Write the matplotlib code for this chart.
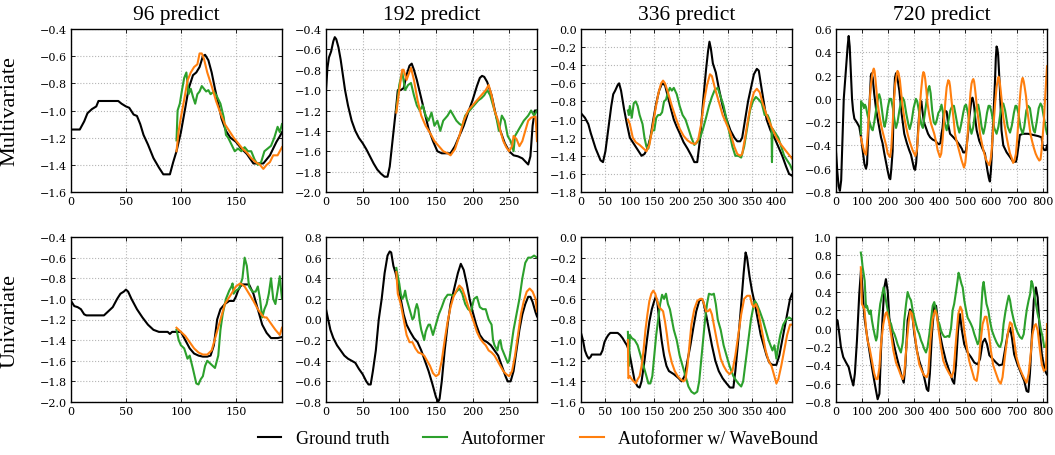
import matplotlib
matplotlib.use('Agg')
import matplotlib.pyplot as plt
from matplotlib.ticker import FuncFormatter

# ---------------- data ----------------
# multivariate, 96 predict
gt_m96_x = [0, 8, 12, 15, 19, 23, 25, 43, 46, 50, 53, 57, 60, 63, 66, 70, 75, 80, 84, 90, 93, 96, 100, 104, 107, 111, 114, 117, 120, 122, 125, 128, 131, 134, 137, 141, 145, 150, 155, 160, 166, 170, 175, 178, 181, 184, 187, 190, 192]
gt_m96_y = [-1.14, -1.14, -1.08, -1.02, -0.99, -0.97, -0.93, -0.93, -0.95, -0.97, -0.98, -1.03, -1.04, -1.1, -1.18, -1.25, -1.35, -1.42, -1.47, -1.47, -1.38, -1.3, -1.16, -0.98, -0.84, -0.74, -0.72, -0.68, -0.6, -0.59, -0.63, -0.72, -0.84, -0.95, -1.06, -1.15, -1.2, -1.23, -1.28, -1.32, -1.39, -1.39, -1.39, -1.36, -1.33, -1.28, -1.23, -1.19, -1.16]
af_m96_x = [96, 97, 99, 101, 103, 105, 107, 109, 111, 113, 115, 117, 119, 121, 123, 125, 127, 130, 133, 136, 139, 141, 143, 146, 149, 152, 155, 158, 161, 164, 167, 170, 173, 176, 179, 182, 185, 188, 190, 192]
af_m96_y = [-1.22, -1.0, -0.95, -0.85, -0.76, -0.72, -0.88, -0.84, -0.9, -0.95, -0.88, -0.86, -0.82, -0.84, -0.86, -0.85, -0.88, -0.86, -0.9, -0.95, -1.05, -1.18, -1.2, -1.25, -1.3, -1.28, -1.3, -1.27, -1.3, -1.3, -1.36, -1.4, -1.38, -1.3, -1.28, -1.26, -1.2, -1.12, -1.16, -1.1]
wb_m96_x = [96, 98, 100, 103, 106, 109, 112, 115, 117, 119, 121, 124, 128, 132, 136, 140, 144, 148, 152, 156, 160, 164, 168, 172, 175, 178, 181, 184, 188, 192]
wb_m96_y = [-1.3, -1.15, -1.05, -0.92, -0.78, -0.72, -0.68, -0.66, -0.58, -0.58, -0.62, -0.72, -0.82, -0.93, -1.02, -1.1, -1.15, -1.2, -1.24, -1.28, -1.31, -1.35, -1.38, -1.4, -1.43, -1.4, -1.38, -1.33, -1.33, -1.27]

# multivariate, 192 predict
gt_m192_x = [0, 2, 4, 7, 10, 12, 14, 17, 20, 23, 26, 30, 35, 40, 45, 50, 55, 60, 65, 70, 75, 80, 84, 87, 90, 93, 96, 98, 102, 106, 110, 114, 117, 120, 124, 128, 134, 140, 146, 152, 158, 164, 170, 176, 182, 188, 194, 200, 206, 210, 213, 216, 220, 226, 232, 238, 244, 250, 256, 262, 268, 272, 276, 279, 282, 285, 288]
gt_m192_y = [-1.0, -0.78, -0.68, -0.62, -0.52, -0.48, -0.5, -0.58, -0.7, -0.85, -1.0, -1.15, -1.3, -1.4, -1.47, -1.52, -1.58, -1.65, -1.72, -1.78, -1.82, -1.85, -1.85, -1.75, -1.55, -1.35, -1.15, -1.0, -1.0, -0.98, -0.85, -0.76, -0.74, -0.8, -0.9, -1.02, -1.2, -1.38, -1.5, -1.6, -1.62, -1.62, -1.62, -1.55, -1.45, -1.35, -1.22, -1.1, -0.96, -0.88, -0.86, -0.87, -0.92, -1.05, -1.25, -1.4, -1.52, -1.6, -1.64, -1.65, -1.67, -1.7, -1.73, -1.65, -1.35, -1.2, -1.2]
af_m192_x = [96, 100, 104, 108, 112, 116, 120, 124, 128, 132, 136, 140, 144, 148, 152, 156, 160, 166, 170, 174, 178, 182, 186, 190, 196, 202, 208, 212, 216, 220, 224, 228, 232, 236, 240, 244, 248, 252, 256, 258, 262, 266, 270, 276, 280, 284, 288]
af_m192_y = [-1.2, -0.95, -0.82, -1.0, -0.95, -0.93, -1.05, -1.15, -1.2, -1.15, -1.25, -1.3, -1.22, -1.35, -1.3, -1.4, -1.3, -1.25, -1.2, -1.25, -1.3, -1.33, -1.35, -1.25, -1.2, -1.15, -1.1, -1.08, -1.05, -1.0, -1.05, -1.15, -1.25, -1.4, -1.25, -1.3, -1.45, -1.5, -1.6, -1.45, -1.4, -1.35, -1.3, -1.25, -1.2, -1.25, -1.2]
wb_m192_x = [96, 100, 104, 106, 110, 114, 116, 120, 125, 130, 136, 142, 148, 154, 160, 166, 170, 176, 182, 188, 194, 200, 206, 212, 218, 222, 226, 230, 234, 238, 242, 246, 250, 254, 256, 260, 264, 268, 272, 276, 280, 286, 288]
wb_m192_y = [-1.22, -1.0, -0.8, -0.8, -0.9, -0.82, -0.78, -0.9, -1.1, -1.25, -1.35, -1.42, -1.5, -1.55, -1.6, -1.62, -1.64, -1.58, -1.45, -1.3, -1.2, -1.15, -1.1, -1.05, -1.0, -0.95, -1.05, -1.2, -1.28, -1.4, -1.5, -1.56, -1.6, -1.55, -1.45, -1.48, -1.55, -1.5, -1.4, -1.3, -1.27, -1.26, -1.5]

# multivariate, 336 predict
gt_m336_x = [0, 8, 15, 20, 30, 40, 45, 50, 56, 62, 66, 70, 75, 78, 82, 88, 94, 100, 106, 112, 118, 124, 130, 136, 142, 148, 154, 160, 166, 172, 178, 184, 190, 196, 202, 210, 218, 226, 232, 238, 244, 250, 256, 260, 263, 266, 270, 276, 282, 290, 298, 306, 314, 320, 326, 330, 336, 342, 348, 354, 360, 364, 368, 374, 380, 388, 396, 404, 412, 420, 426, 432]
gt_m336_y = [-0.93, -0.98, -1.05, -1.15, -1.32, -1.45, -1.47, -1.35, -1.1, -0.85, -0.72, -0.68, -0.62, -0.6, -0.68, -0.88, -1.05, -1.2, -1.25, -1.3, -1.35, -1.4, -1.38, -1.32, -1.2, -1.0, -0.82, -0.68, -0.6, -0.62, -0.75, -0.88, -1.0, -1.08, -1.15, -1.25, -1.32, -1.4, -1.47, -1.47, -1.2, -0.8, -0.45, -0.25, -0.14, -0.22, -0.38, -0.48, -0.65, -0.85, -1.0, -1.12, -1.2, -1.24, -1.24, -1.2, -1.0, -0.8, -0.65, -0.5, -0.44, -0.46, -0.6, -0.8, -1.0, -1.12, -1.2, -1.3, -1.4, -1.52, -1.6, -1.62]
af_m336_x = [96, 98, 100, 104, 108, 112, 116, 120, 126, 130, 134, 138, 142, 146, 150, 154, 158, 162, 166, 170, 174, 178, 182, 186, 190, 196, 202, 208, 214, 220, 226, 232, 238, 244, 250, 256, 262, 268, 274, 280, 286, 292, 298, 304, 310, 316, 322, 328, 334, 340, 346, 352, 358, 364, 370, 376, 382, 386, 390, 391, 392, 398, 404, 410, 416, 422, 428, 432]
af_m336_y = [-0.9, -0.95, -0.85, -0.98, -0.82, -0.8, -0.85, -0.95, -1.05, -1.2, -1.3, -1.32, -1.2, -1.12, -1.12, -0.98, -0.95, -0.95, -0.92, -0.8, -0.78, -0.7, -0.65, -0.68, -0.65, -0.72, -0.85, -0.95, -1.0, -1.1, -1.2, -1.28, -1.25, -1.2, -1.1, -0.98, -0.85, -0.75, -0.67, -0.65, -0.75, -0.85, -1.0, -1.15, -1.3, -1.4, -1.4, -1.42, -1.3, -1.1, -0.9, -0.8, -0.75, -0.78, -0.82, -0.95, -0.95, -1.0, -1.1, -1.47, -1.1, -1.15, -1.2, -1.3, -1.4, -1.45, -1.5, -1.55]
wb_m336_x = [96, 100, 106, 112, 120, 128, 134, 140, 146, 152, 158, 164, 168, 172, 178, 186, 194, 202, 210, 218, 226, 234, 240, 246, 252, 258, 264, 268, 274, 282, 290, 298, 306, 314, 320, 326, 330, 336, 342, 348, 354, 360, 366, 372, 380, 390, 400, 410, 420, 432]
wb_m336_y = [-1.0, -1.05, -1.2, -1.25, -1.28, -1.32, -1.35, -1.28, -1.1, -0.9, -0.72, -0.6, -0.57, -0.6, -0.7, -0.85, -0.98, -1.1, -1.18, -1.23, -1.26, -1.27, -1.22, -1.05, -0.8, -0.62, -0.5, -0.52, -0.65, -0.8, -0.95, -1.05, -1.15, -1.3, -1.38, -1.4, -1.38, -1.2, -1.0, -0.82, -0.7, -0.66, -0.7, -0.82, -0.95, -1.08, -1.2, -1.28, -1.35, -1.43]

# multivariate, 720 predict
gt_m720_x = [0, 5, 10, 15, 20, 25, 30, 35, 40, 45, 49, 53, 58, 62, 66, 71, 80, 90, 97, 103, 110, 116, 120, 124, 129, 135, 138, 142, 148, 155, 165, 174, 180, 187, 194, 200, 206, 210, 214, 219, 224, 228, 232, 236, 245, 254, 264, 274, 283, 290, 296, 302, 306, 310, 313, 318, 322, 326, 330, 334, 340, 348, 356, 364, 374, 384, 392, 398, 404, 408, 412, 416, 421, 428, 434, 441, 454, 466, 479, 487, 492, 498, 503, 508, 512, 516, 520, 524, 528, 532, 535, 540, 544, 554, 567, 576, 581, 586, 591, 595, 599, 602, 605, 608, 612, 615, 618, 621, 624, 627, 630, 634, 637, 640, 647, 660, 673, 685, 696, 700, 705, 709, 711, 724, 743, 763, 782, 795, 800, 806, 812, 816]
gt_m720_y = [-0.45, -0.62, -0.75, -0.79, -0.7, -0.35, 0.0, 0.15, 0.3, 0.45, 0.54, 0.45, 0.2, 0.0, -0.1, -0.17, -0.2, -0.24, -0.33, -0.44, -0.56, -0.6, -0.56, -0.35, -0.07, 0.2, 0.22, 0.18, 0.04, -0.09, -0.22, -0.33, -0.38, -0.47, -0.55, -0.62, -0.68, -0.69, -0.6, -0.45, 0.0, 0.18, 0.22, 0.2, 0.07, -0.13, -0.3, -0.38, -0.44, -0.48, -0.54, -0.6, -0.61, -0.55, -0.45, -0.25, -0.12, -0.05, -0.02, -0.1, -0.2, -0.25, -0.3, -0.33, -0.35, -0.36, -0.38, -0.39, -0.38, -0.3, -0.25, -0.14, -0.1, -0.11, -0.22, -0.3, -0.33, -0.36, -0.4, -0.43, -0.46, -0.46, -0.44, -0.35, -0.27, -0.15, -0.08, 0.0, 0.01, -0.03, -0.08, -0.2, -0.27, -0.36, -0.43, -0.47, -0.55, -0.62, -0.68, -0.71, -0.62, -0.5, -0.35, -0.2, 0.0, 0.16, 0.35, 0.45, 0.43, 0.38, 0.25, 0.08, -0.1, -0.27, -0.4, -0.46, -0.5, -0.54, -0.54, -0.5, -0.42, -0.35, -0.31, -0.3, -0.3, -0.31, -0.32, -0.33, -0.42, -0.44, -0.44, -0.4]
af_m720_x = [96, 97, 100, 104, 108, 112, 116, 122, 130, 138, 142, 148, 156, 162, 167, 172, 178, 184, 188, 194, 200, 207, 213, 220, 226, 232, 238, 245, 252, 258, 264, 272, 280, 285, 292, 300, 309, 314, 322, 330, 336, 342, 350, 356, 361, 366, 372, 378, 384, 390, 396, 402, 408, 414, 420, 428, 434, 442, 450, 456, 462, 470, 477, 484, 492, 498, 503, 510, 518, 524, 530, 538, 545, 550, 556, 563, 570, 576, 584, 590, 595, 602, 612, 621, 628, 636, 642, 647, 654, 664, 673, 680, 688, 694, 698, 705, 714, 722, 728, 736, 743, 750, 758, 764, 769, 776, 784, 791, 796, 804, 812, 816]
af_m720_y = [-0.3, -0.02, -0.05, -0.04, -0.08, -0.05, -0.07, -0.14, -0.2, -0.26, -0.27, -0.2, -0.08, 0.0, 0.04, 0.0, -0.1, -0.2, -0.24, -0.18, -0.08, 0.0, 0.0, -0.08, -0.18, -0.25, -0.2, -0.1, -0.02, 0.01, -0.02, -0.13, -0.22, -0.26, -0.2, -0.08, 0.0, -0.02, -0.12, -0.22, -0.25, -0.15, -0.02, 0.08, 0.11, 0.05, -0.1, -0.2, -0.22, -0.18, -0.12, -0.1, -0.05, -0.12, -0.2, -0.27, -0.2, -0.1, -0.06, -0.06, -0.13, -0.23, -0.29, -0.22, -0.12, -0.06, -0.05, -0.12, -0.24, -0.3, -0.25, -0.12, -0.06, -0.05, -0.12, -0.24, -0.3, -0.24, -0.12, -0.06, -0.06, -0.12, -0.25, -0.3, -0.24, -0.12, -0.05, -0.04, -0.1, -0.24, -0.29, -0.23, -0.12, -0.06, -0.06, -0.12, -0.25, -0.3, -0.24, -0.1, -0.06, -0.08, -0.2, -0.27, -0.29, -0.2, -0.08, -0.04, -0.06, -0.16, -0.26, -0.3]
wb_m720_x = [96, 103, 110, 116, 122, 129, 134, 139, 143, 146, 149, 152, 156, 161, 167, 174, 180, 187, 194, 200, 209, 214, 219, 224, 229, 235, 238, 242, 247, 252, 258, 264, 271, 278, 284, 290, 296, 307, 312, 316, 322, 329, 335, 338, 341, 345, 350, 354, 360, 367, 374, 380, 387, 393, 402, 407, 412, 418, 423, 428, 434, 438, 441, 446, 451, 456, 460, 466, 473, 480, 486, 495, 500, 505, 510, 515, 520, 524, 528, 531, 534, 537, 541, 546, 552, 557, 564, 570, 576, 582, 593, 598, 602, 606, 611, 616, 621, 626, 629, 633, 637, 642, 647, 654, 660, 667, 673, 680, 685, 690, 696, 701, 706, 711, 715, 719, 722, 726, 729, 735, 740, 746, 752, 758, 765, 772, 778, 786, 791, 795, 800, 804, 808, 812, 816]
wb_m720_y = [-0.33, -0.4, -0.46, -0.48, -0.32, -0.07, 0.1, 0.19, 0.24, 0.26, 0.24, 0.18, 0.08, -0.04, -0.13, -0.22, -0.28, -0.34, -0.4, -0.47, -0.5, -0.42, -0.22, -0.02, 0.13, 0.21, 0.24, 0.22, 0.16, 0.05, -0.07, -0.16, -0.24, -0.31, -0.36, -0.4, -0.44, -0.49, -0.45, -0.36, -0.14, 0.07, 0.2, 0.23, 0.22, 0.17, 0.06, -0.04, -0.13, -0.21, -0.26, -0.3, -0.37, -0.44, -0.5, -0.47, -0.36, -0.18, -0.02, 0.1, 0.16, 0.15, 0.11, 0.0, -0.1, -0.2, -0.3, -0.36, -0.42, -0.48, -0.53, -0.59, -0.55, -0.44, -0.28, -0.1, 0.05, 0.13, 0.16, 0.17, 0.15, 0.1, 0.02, -0.1, -0.2, -0.3, -0.38, -0.44, -0.49, -0.53, -0.57, -0.52, -0.44, -0.32, -0.16, -0.02, 0.1, 0.17, 0.19, 0.15, 0.07, -0.04, -0.16, -0.25, -0.33, -0.41, -0.47, -0.51, -0.55, -0.53, -0.47, -0.34, -0.16, 0.0, 0.1, 0.16, 0.18, 0.15, 0.11, 0.02, -0.1, -0.2, -0.3, -0.36, -0.42, -0.47, -0.5, -0.53, -0.52, -0.44, -0.3, -0.19, -0.02, 0.13, 0.28]

# univariate, 96 predict
gt_u96_x = [0, 3, 6, 9, 12, 14, 30, 34, 38, 42, 45, 48, 50, 52, 55, 60, 65, 70, 75, 80, 88, 90, 92, 96, 100, 104, 108, 112, 116, 120, 124, 127, 130, 133, 136, 140, 144, 148, 150, 152, 154, 156, 162, 166, 170, 174, 178, 182, 188, 192]
gt_u96_y = [-1.02, -1.07, -1.08, -1.1, -1.15, -1.16, -1.16, -1.12, -1.08, -1.0, -0.95, -0.93, -0.91, -0.93, -1.0, -1.1, -1.18, -1.25, -1.3, -1.32, -1.32, -1.34, -1.32, -1.32, -1.32, -1.4, -1.48, -1.53, -1.55, -1.56, -1.56, -1.55, -1.45, -1.2, -1.1, -1.05, -1.02, -1.02, -0.98, -0.92, -0.88, -0.86, -0.86, -0.95, -1.1, -1.25, -1.33, -1.38, -1.38, -1.37]
af_u96_x = [96, 98, 100, 103, 106, 108, 111, 114, 116, 118, 120, 122, 124, 126, 129, 131, 134, 136, 138, 141, 144, 146, 147, 148, 150, 153, 156, 158, 160, 162, 165, 168, 170, 172, 174, 176, 178, 180, 182, 184, 186, 188, 190, 191, 192]
af_u96_y = [-1.3, -1.4, -1.45, -1.48, -1.58, -1.55, -1.68, -1.82, -1.83, -1.78, -1.75, -1.65, -1.6, -1.62, -1.65, -1.67, -1.55, -1.3, -1.15, -1.0, -0.92, -0.88, -0.85, -0.95, -0.92, -0.9, -0.8, -0.6, -0.68, -0.88, -0.93, -0.93, -0.88, -1.0, -1.18, -1.1, -1.05, -0.95, -0.8, -1.0, -1.05, -0.92, -0.78, -0.9, -1.0]
wb_u96_x = [96, 100, 104, 108, 112, 116, 120, 124, 128, 132, 136, 140, 146, 150, 154, 158, 162, 166, 170, 174, 176, 178, 182, 186, 190, 192]
wb_u96_y = [-1.28, -1.32, -1.36, -1.42, -1.48, -1.52, -1.54, -1.54, -1.5, -1.35, -1.2, -1.05, -0.95, -0.88, -0.85, -0.88, -0.95, -1.02, -1.1, -1.16, -1.18, -1.18, -1.24, -1.3, -1.35, -1.28]

# univariate, 192 predict
gt_u192_x = [0, 3, 6, 10, 15, 20, 25, 30, 35, 40, 45, 50, 55, 58, 61, 64, 68, 72, 76, 80, 84, 87, 89, 92, 95, 98, 102, 106, 110, 115, 120, 125, 130, 135, 140, 145, 150, 153, 155, 158, 162, 166, 170, 175, 180, 184, 188, 192, 196, 200, 205, 210, 215, 220, 225, 230, 235, 240, 245, 248, 252, 256, 260, 264, 268, 272, 276, 279, 282, 286, 288]
gt_u192_y = [0.1, 0.0, -0.1, -0.18, -0.25, -0.3, -0.35, -0.38, -0.4, -0.42, -0.48, -0.53, -0.6, -0.63, -0.63, -0.5, -0.3, 0.0, 0.2, 0.45, 0.62, 0.66, 0.65, 0.52, 0.45, 0.35, 0.2, 0.05, -0.05, -0.12, -0.18, -0.22, -0.3, -0.4, -0.5, -0.62, -0.75, -0.8, -0.77, -0.6, -0.3, -0.05, 0.15, 0.3, 0.45, 0.54, 0.48, 0.35, 0.2, 0.08, -0.05, -0.15, -0.2, -0.22, -0.25, -0.3, -0.35, -0.45, -0.55, -0.6, -0.6, -0.5, -0.3, -0.1, 0.05, 0.15, 0.22, 0.22, 0.17, 0.07, 0.03]
af_u192_x = [96, 98, 100, 102, 104, 106, 108, 110, 112, 114, 116, 118, 120, 122, 124, 126, 128, 130, 132, 134, 136, 138, 140, 142, 144, 146, 148, 150, 154, 158, 162, 166, 170, 174, 178, 182, 186, 190, 194, 198, 202, 206, 210, 214, 218, 222, 226, 228, 230, 234, 236, 238, 240, 244, 248, 250, 252, 256, 260, 264, 268, 272, 276, 280, 284, 288]
af_u192_y = [0.5, 0.42, 0.35, 0.25, 0.2, 0.22, 0.28, 0.2, 0.15, 0.1, 0.05, 0.0, 0.02, 0.1, 0.15, 0.1, -0.02, -0.1, -0.15, -0.2, -0.12, -0.08, -0.05, -0.05, -0.1, -0.15, -0.1, -0.05, 0.05, 0.12, 0.2, 0.24, 0.24, 0.23, 0.27, 0.3, 0.25, 0.15, 0.1, 0.08, 0.2, 0.22, 0.12, 0.1, 0.1, 0.0, -0.05, -0.2, -0.25, -0.3, -0.22, -0.2, -0.28, -0.35, -0.42, -0.4, -0.3, -0.1, 0.05, 0.2, 0.4, 0.55, 0.6, 0.6, 0.62, 0.6]
wb_u192_x = [96, 98, 102, 106, 110, 114, 118, 122, 126, 130, 134, 138, 142, 146, 150, 154, 158, 162, 166, 170, 174, 178, 182, 186, 190, 194, 198, 202, 206, 210, 214, 218, 222, 226, 230, 234, 238, 242, 246, 250, 254, 258, 262, 266, 270, 274, 278, 282, 286, 288]
wb_u192_y = [0.46, 0.25, 0.15, 0.0, -0.15, -0.22, -0.22, -0.28, -0.32, -0.33, -0.35, -0.4, -0.45, -0.52, -0.55, -0.53, -0.4, -0.2, -0.02, 0.12, 0.22, 0.28, 0.33, 0.3, 0.22, 0.13, 0.05, -0.03, -0.12, -0.18, -0.22, -0.25, -0.3, -0.32, -0.35, -0.4, -0.45, -0.5, -0.53, -0.55, -0.5, -0.35, -0.15, 0.05, 0.18, 0.27, 0.3, 0.27, 0.2, 0.08]

# univariate, 336 predict
gt_u336_x = [0, 4, 8, 12, 16, 20, 22, 40, 44, 48, 52, 56, 60, 75, 80, 85, 90, 94, 98, 102, 106, 110, 116, 120, 124, 130, 135, 140, 145, 150, 153, 156, 160, 165, 170, 175, 180, 190, 200, 206, 212, 218, 224, 230, 236, 242, 246, 250, 256, 262, 268, 275, 282, 290, 298, 305, 312, 316, 322, 328, 333, 337, 340, 345, 350, 356, 362, 368, 374, 380, 386, 392, 400, 406, 412, 418, 424, 428, 432]
gt_u336_y = [-0.93, -1.0, -1.1, -1.15, -1.18, -1.16, -1.14, -1.14, -1.1, -1.02, -0.98, -0.95, -0.93, -0.93, -0.95, -0.98, -1.02, -1.05, -1.1, -1.2, -1.3, -1.4, -1.45, -1.46, -1.4, -1.2, -1.0, -0.82, -0.7, -0.62, -0.58, -0.62, -0.8, -1.0, -1.15, -1.25, -1.3, -1.33, -1.37, -1.4, -1.35, -1.2, -1.05, -0.88, -0.72, -0.62, -0.6, -0.62, -0.75, -0.9, -1.05, -1.2, -1.3, -1.37, -1.42, -1.46, -1.46, -1.3, -1.0, -0.65, -0.35, -0.15, -0.2, -0.38, -0.52, -0.65, -0.8, -0.95, -1.05, -1.15, -1.22, -1.24, -1.24, -1.15, -1.0, -0.85, -0.7, -0.6, -0.55]
af_u336_x = [96, 98, 100, 104, 110, 116, 122, 128, 134, 138, 142, 146, 150, 154, 158, 162, 166, 170, 174, 178, 182, 186, 190, 196, 202, 208, 214, 220, 226, 232, 238, 242, 246, 250, 254, 258, 262, 268, 272, 276, 280, 286, 292, 298, 304, 308, 312, 316, 322, 328, 332, 336, 340, 344, 348, 352, 356, 360, 366, 372, 378, 384, 388, 392, 396, 400, 404, 408, 414, 420, 426, 432]
af_u336_y = [-0.92, -1.25, -0.95, -0.98, -1.0, -1.05, -1.15, -1.25, -1.35, -1.42, -1.42, -1.35, -1.15, -0.95, -0.8, -0.65, -0.56, -0.6, -0.55, -0.65, -0.7, -0.8, -0.9, -1.0, -1.15, -1.25, -1.35, -1.45, -1.5, -1.52, -1.5, -1.4, -1.2, -1.0, -0.8, -0.65, -0.55, -0.56, -0.55, -0.65, -0.8, -0.9, -1.05, -1.15, -1.25, -1.3, -1.35, -1.38, -1.42, -1.45, -1.4, -1.25, -1.1, -0.95, -0.8, -0.7, -0.62, -0.65, -0.72, -0.8, -0.9, -1.0, -1.05, -1.1, -1.05, -1.18, -1.05, -0.95, -0.85, -0.8, -0.78, -0.8]
wb_u336_x = [96, 97, 100, 104, 108, 112, 116, 120, 124, 128, 132, 136, 140, 144, 148, 152, 156, 160, 164, 168, 172, 176, 180, 186, 192, 198, 204, 210, 214, 218, 222, 226, 232, 238, 244, 248, 252, 256, 260, 264, 268, 274, 280, 286, 292, 298, 304, 310, 316, 322, 328, 334, 340, 346, 350, 354, 358, 362, 366, 372, 378, 384, 390, 396, 400, 404, 410, 416, 422, 428, 432]
wb_u336_y = [-1.0, -1.37, -1.35, -1.38, -1.4, -1.42, -1.38, -1.35, -1.25, -1.1, -0.9, -0.75, -0.62, -0.55, -0.52, -0.55, -0.62, -0.68, -0.7, -0.72, -0.82, -0.95, -1.1, -1.22, -1.3, -1.35, -1.38, -1.4, -1.38, -1.25, -1.05, -0.85, -0.7, -0.62, -0.6, -0.6, -0.65, -0.72, -0.72, -0.7, -0.75, -0.9, -1.05, -1.18, -1.25, -1.3, -1.33, -1.3, -1.15, -0.95, -0.75, -0.6, -0.57, -0.57, -0.65, -0.68, -0.65, -0.7, -0.8, -0.95, -1.1, -1.2, -1.25, -1.35, -1.42, -1.38, -1.25, -1.1, -0.95, -0.85, -0.85]

# univariate, 720 predict
gt_u720_x = [0, 6, 13, 19, 28, 39, 49, 58, 67, 73, 81, 90, 97, 103, 110, 119, 129, 139, 148, 155, 161, 168, 174, 180, 187, 193, 200, 206, 216, 226, 235, 245, 255, 262, 268, 277, 286, 294, 303, 313, 322, 332, 341, 351, 357, 363, 371, 380, 387, 393, 402, 412, 425, 438, 451, 457, 464, 472, 479, 487, 496, 509, 522, 535, 548, 557, 567, 576, 584, 593, 606, 619, 631, 644, 653, 664, 673, 680, 689, 702, 715, 728, 737, 744, 750, 758, 765, 773, 780, 789, 796, 804, 812, 816]
gt_u720_y = [0.1, 0.09, -0.06, -0.2, -0.31, -0.37, -0.42, -0.53, -0.62, -0.49, -0.13, 0.38, 0.65, 0.4, 0.12, -0.06, -0.24, -0.42, -0.57, -0.68, -0.77, -0.71, -0.24, 0.12, 0.45, 0.54, 0.41, 0.12, -0.06, -0.2, -0.31, -0.42, -0.53, -0.59, -0.42, 0.09, 0.21, 0.18, -0.06, -0.24, -0.35, -0.44, -0.53, -0.66, -0.68, -0.49, -0.06, 0.25, 0.25, 0.11, -0.06, -0.2, -0.35, -0.46, -0.57, -0.6, -0.39, -0.02, 0.16, -0.02, -0.17, -0.26, -0.31, -0.37, -0.39, -0.33, -0.15, -0.11, -0.17, -0.29, -0.33, -0.37, -0.4, -0.39, -0.24, -0.06, 0.01, -0.09, -0.28, -0.39, -0.48, -0.57, -0.68, -0.69, -0.49, -0.06, 0.31, 0.45, 0.34, -0.06, -0.28, -0.4, -0.48, -0.5]
af_u720_x = [96, 99, 103, 107, 111, 113, 116, 120, 124, 129, 134, 139, 144, 149, 155, 159, 165, 171, 178, 184, 189, 193, 200, 206, 213, 219, 226, 232, 238, 245, 251, 258, 264, 271, 277, 284, 290, 296, 303, 309, 316, 322, 329, 335, 341, 348, 354, 361, 367, 374, 380, 387, 393, 400, 406, 412, 419, 425, 432, 438, 445, 451, 457, 464, 470, 474, 479, 485, 490, 496, 503, 509, 515, 522, 528, 535, 541, 548, 554, 561, 567, 571, 576, 582, 589, 595, 603, 612, 621, 629, 635, 642, 648, 655, 661, 668, 673, 679, 686, 693, 702, 711, 719, 726, 732, 738, 745, 751, 756, 760, 767, 773, 780, 786, 793, 799, 805, 812, 816]
af_u720_y = [0.83, 0.78, 0.67, 0.6, 0.52, 0.4, 0.23, 0.25, 0.2, 0.16, 0.2, 0.09, 0.01, -0.06, -0.13, -0.09, 0.12, 0.27, 0.36, 0.45, 0.38, 0.31, 0.2, 0.09, 0.05, -0.02, -0.06, -0.11, -0.17, -0.22, -0.26, -0.15, 0.09, 0.27, 0.4, 0.34, 0.31, 0.21, 0.12, 0.05, -0.02, -0.06, -0.13, -0.17, -0.22, -0.26, -0.2, -0.06, 0.09, 0.25, 0.29, 0.2, 0.09, 0.05, -0.02, -0.06, -0.09, -0.09, -0.08, -0.09, 0.01, 0.2, 0.27, 0.4, 0.52, 0.61, 0.56, 0.49, 0.45, 0.31, 0.2, 0.12, 0.09, 0.05, 0.01, -0.06, -0.11, -0.17, -0.13, 0.18, 0.45, 0.51, 0.4, 0.27, 0.2, 0.09, -0.02, -0.09, -0.15, -0.19, -0.2, -0.13, 0.05, 0.18, 0.27, 0.36, 0.31, 0.2, 0.11, 0.03, -0.04, -0.09, -0.11, -0.06, 0.09, 0.21, 0.31, 0.38, 0.52, 0.49, 0.38, 0.27, 0.16, 0.09, -0.02, -0.09, -0.2, -0.19, -0.13]
wb_u720_x = [96, 100, 110, 116, 122, 129, 139, 148, 155, 161, 168, 174, 183, 191, 196, 204, 213, 222, 232, 242, 251, 258, 264, 273, 281, 287, 294, 303, 312, 322, 332, 341, 351, 357, 365, 374, 383, 389, 397, 406, 415, 425, 438, 447, 455, 464, 473, 481, 487, 496, 506, 515, 526, 535, 544, 550, 558, 567, 576, 582, 590, 599, 608, 619, 629, 637, 644, 653, 664, 673, 680, 689, 698, 709, 719, 729, 737, 745, 753, 760, 767, 773, 780, 789, 796, 804, 812, 814, 816]
wb_u720_y = [0.67, 0.27, 0.21, 0.01, -0.13, -0.2, -0.35, -0.49, -0.55, -0.55, -0.42, -0.17, 0.05, 0.16, 0.18, 0.09, -0.06, -0.24, -0.37, -0.44, -0.51, -0.55, -0.49, -0.17, 0.07, 0.19, 0.16, -0.02, -0.22, -0.39, -0.46, -0.51, -0.53, -0.48, -0.13, 0.11, 0.2, 0.16, -0.02, -0.2, -0.35, -0.42, -0.49, -0.53, -0.46, -0.13, 0.16, 0.24, 0.2, -0.02, -0.2, -0.35, -0.46, -0.55, -0.57, -0.46, -0.17, 0.05, 0.13, 0.13, -0.02, -0.24, -0.4, -0.49, -0.57, -0.6, -0.53, -0.31, -0.06, 0.07, 0.05, -0.13, -0.31, -0.42, -0.49, -0.55, -0.59, -0.49, -0.28, -0.06, 0.03, 0.05, -0.02, -0.24, -0.39, -0.46, -0.44, -0.17, 0.05]

titles = ['96 predict', '192 predict', '336 predict', '720 predict']
row_labels = ['Multivariate', 'Univariate']
pred_lens = [96, 192, 336, 720]
input_len = 96
ylims = [[(-1.6, -0.4), (-2.0, -0.4), (-1.8, 0.0), (-0.8, 0.6)],
         [(-2.0, -0.4), (-0.8, 0.8), (-1.6, 0.0), (-0.8, 1.0)]]
xstep = [50, 50, 50, 100]
legend_names = ['Ground truth', 'Autoformer', 'Autoformer w/ WaveBound']

panels = [
    [(gt_m96_x, gt_m96_y, af_m96_x, af_m96_y, wb_m96_x, wb_m96_y),
     (gt_m192_x, gt_m192_y, af_m192_x, af_m192_y, wb_m192_x, wb_m192_y),
     (gt_m336_x, gt_m336_y, af_m336_x, af_m336_y, wb_m336_x, wb_m336_y),
     (gt_m720_x, gt_m720_y, af_m720_x, af_m720_y, wb_m720_x, wb_m720_y)],
    [(gt_u96_x, gt_u96_y, af_u96_x, af_u96_y, wb_u96_x, wb_u96_y),
     (gt_u192_x, gt_u192_y, af_u192_x, af_u192_y, wb_u192_x, wb_u192_y),
     (gt_u336_x, gt_u336_y, af_u336_x, af_u336_y, wb_u336_x, wb_u336_y),
     (gt_u720_x, gt_u720_y, af_u720_x, af_u720_y, wb_u720_x, wb_u720_y)],
]


def fmt(v, pos):
    s = '%.1f' % round(v, 1)
    if s == '-0.0':
        s = '0.0'
    return s.replace('-', '\u2212')


# ---------------- drawing ----------------
plt.rcParams['font.family'] = 'DejaVu Serif'

W, H = 1055, 456
fig = plt.figure(figsize=(W / 100, H / 100), dpi=100)
lefts = [71, 326, 581, 836]
rows = [(30, 193), (238, 403)]

lines = None
for r in range(2):
    for c in range(4):
        top, bot = rows[r]
        ax = fig.add_axes([lefts[c] / W, 1 - bot / H, 211 / W, (bot - top) / H])
        gx, gy, ax_, ay, wx, wy = panels[r][c]
        l1, = ax.plot(gx, gy, color='black', lw=1.5)
        l2, = ax.plot(ax_, ay, color='#2ca02c', lw=1.5)
        l3, = ax.plot(wx, wy, color='#ff7f0e', lw=1.5)
        lines = [l1, l2, l3]
        n = input_len + pred_lens[c]
        ax.set_xlim(0, n)
        lo, hi = ylims[r][c]
        ax.set_ylim(lo, hi)
        ax.set_xticks(list(range(0, n, xstep[c])))
        nt = int(round((hi - lo) / 0.2))
        ax.set_yticks([lo + 0.2 * i for i in range(nt + 1)])
        ax.yaxis.set_major_formatter(FuncFormatter(fmt))
        ax.grid(True, linestyle=':', color='#b5b5b5', linewidth=0.8)
        ax.tick_params(direction='in', top=True, right=True, length=3, width=0.6,
                       labelsize=8, pad=3)
        for s in ax.spines.values():
            s.set_linewidth(1.0)
        if r == 0:
            ax.set_title(titles[c], fontsize=15.5, family='Liberation Serif', pad=7)
        if c == 0:
            ax.set_ylabel(row_labels[r], fontsize=16, family='Liberation Serif')
            ax.yaxis.set_label_coords(-0.245, 0.5)

fig.legend(lines, legend_names, loc='center', bbox_to_anchor=(538 / W, 1 - 440 / H),
           ncol=3, frameon=False, prop={'family': 'Liberation Serif', 'size': 13},
           handlelength=1.3, handletextpad=0.8, columnspacing=1.9)

fig.savefig('out.png', dpi=100, facecolor='white')
